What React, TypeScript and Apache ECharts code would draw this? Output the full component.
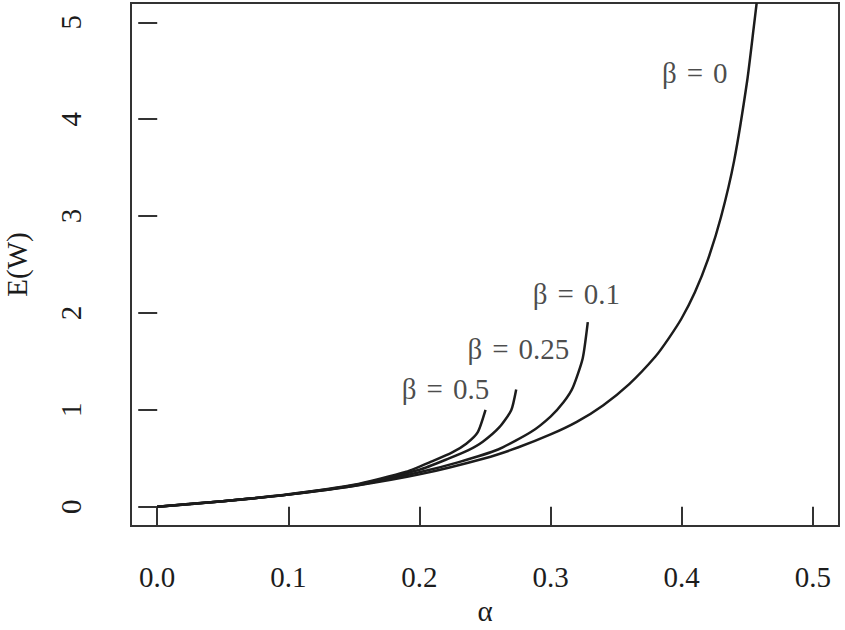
import React, { useEffect, useRef } from "react";
import * as echarts from "echarts";

// alpha / E(W) readings for each beta curve
const alphaB0 = [0, 0.05, 0.1, 0.15, 0.2, 0.25, 0.275, 0.3, 0.32, 0.34, 0.36, 0.38, 0.39, 0.4, 0.41, 0.42, 0.43, 0.44, 0.45, 0.455, 0.4572];
const ewB0 = [0, 0.055, 0.124, 0.213, 0.333, 0.5, 0.61, 0.745, 0.875, 1.045, 1.265, 1.55, 1.735, 1.945, 2.21, 2.55, 2.99, 3.57, 4.4, 4.95, 5.2];

const alphaB01 = [0, 0.05, 0.1, 0.15, 0.2, 0.23, 0.26, 0.285, 0.3, 0.31, 0.317, 0.3245, 0.3284];
const ewB01 = [0, 0.055, 0.124, 0.215, 0.355, 0.46, 0.59, 0.77, 0.93, 1.08, 1.23, 1.53, 1.905];

const alphaB025 = [0, 0.05, 0.1, 0.15, 0.2, 0.223, 0.237, 0.2483, 0.261, 0.27, 0.2738];
const ewB025 = [0, 0.056, 0.126, 0.22, 0.38, 0.5, 0.58, 0.67, 0.82, 0.995, 1.21];

const alphaB05 = [0, 0.05, 0.1, 0.15, 0.19, 0.21, 0.225, 0.2357, 0.2445, 0.2504];
const ewB05 = [0, 0.056, 0.127, 0.225, 0.36, 0.47, 0.56, 0.65, 0.77, 1.0];

const xTicks = [0, 0.1, 0.2, 0.3, 0.4, 0.5];
const yTicks = [0, 1, 2, 3, 4, 5];

const betaValues = ["0", "0.1", "0.25", "0.5"];
const labelAlpha = [0.41, 0.3197, 0.2755, 0.2199];
const labelEW = [4.48, 2.2, 1.624, 1.216];

const zip = (a: number[], b: number[]) => a.map((v, i) => [v, b[i]]);

export default function App() {
  const ref = useRef<HTMLDivElement>(null);
  useEffect(() => {
    if (!ref.current) return;
    const chart = echarts.init(ref.current, null, { renderer: "svg" });
    const font = "'Liberation Serif', 'Times New Roman', serif";
    const ink = "#1c1c1c";
    const lineSeries = (data: number[][]) => ({
      type: "line",
      data,
      showSymbol: false,
      symbol: "none",
      smooth: 0.2,
      clip: true,
      lineStyle: { color: ink, width: 2.5 },
      silent: true,
    });
    const txt = { fontFamily: font, fontSize: 29, color: ink };
    chart.setOption({
      animation: false,
      backgroundColor: "#fff",
      textStyle: { fontFamily: font },
      grid: {
        left: 131,
        right: 6,
        top: 3,
        bottom: 104,
        containLabel: false,
        outerBoundsMode: "none",
        show: true,
        borderColor: "#333",
        borderWidth: 2,
        backgroundColor: "transparent",
      },
      xAxis: {
        type: "value",
        min: -0.02,
        max: 0.52,
        name: "α",
        nameLocation: "middle",
        nameGap: 70,
        nameTextStyle: txt,
        splitLine: { show: false },
        axisLine: { show: false },
        axisTick: {
          show: true,
          inside: false,
          length: 19,
          customValues: xTicks,
          lineStyle: { color: "#333", width: 2 },
        },
        axisLabel: {
          customValues: xTicks,
          margin: 36,
          ...txt,
          formatter: (v: number) => v.toFixed(1),
        },
      },
      yAxis: {
        type: "value",
        min: -0.2,
        max: 5.2,
        name: "E(W)",
        nameLocation: "middle",
        nameGap: 100,
        nameRotate: 90,
        nameTextStyle: txt,
        splitLine: { show: false },
        axisLine: { show: false },
        axisTick: {
          show: true,
          inside: false,
          length: 19,
          customValues: yTicks,
          lineStyle: { color: "#333", width: 2 },
        },
        axisLabel: {
          customValues: yTicks,
          rotate: 90,
          margin: 60,
          ...txt,
          align: "center",
          verticalAlign: "middle",
        },
      },
      series: [
        lineSeries(zip(alphaB0, ewB0)),
        lineSeries(zip(alphaB01, ewB01)),
        lineSeries(zip(alphaB025, ewB025)),
        lineSeries(zip(alphaB05, ewB05)),
        {
          type: "scatter",
          symbolSize: 1,
          itemStyle: { color: "rgba(0,0,0,0)" },
          silent: true,
          data: betaValues.map((t, i) => ({ value: [labelAlpha[i], labelEW[i]], name: t })),
          label: {
            show: true,
            position: "inside",
            formatter: (p: any) => `{t|β}{e|=}{t|${p.name}}`,
            ...txt,
            rich: {
              t: { ...txt },
              e: { ...txt, padding: [0, 10, 0, 10] },
            },
          },
        },
      ],
    });
    return () => chart.dispose();
  }, []);
  return (
    <div
      ref={ref}
      style={{ position: "fixed", left: 0, top: 0, width: 845, height: 630, background: "#fff" }}
    />
  );
}
